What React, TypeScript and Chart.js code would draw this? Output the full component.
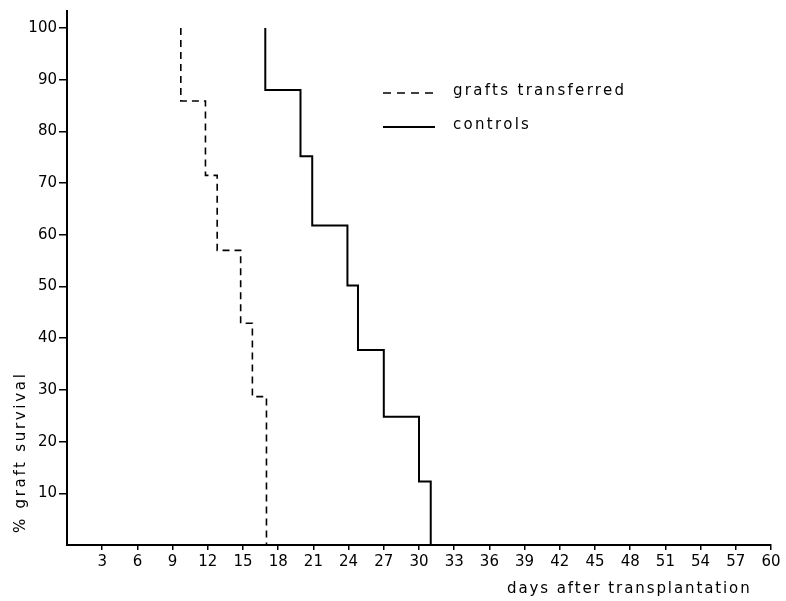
import React, { useEffect, useRef } from "react";
import { Chart, registerables } from "chart.js";

Chart.register(...registerables);

// Days at which each survival step happens
const transferredDays = [9.7, 11.8, 12.8, 14.8, 15.8, 17.0];
// % graft survival before first step, then after each step
const transferredSurvival = [100, 85.9, 71.5, 57.0, 42.9, 28.7, 0];

const controlDays = [16.9, 19.9, 20.9, 23.9, 24.8, 27.0, 30.0, 31.0];
const controlSurvival = [100, 88.0, 75.2, 61.8, 50.2, 37.7, 24.8, 12.3, 0];

const xTickValues = [3, 6, 9, 12, 15, 18, 21, 24, 27, 30, 33, 36, 39, 42, 45, 48, 51, 54, 57, 60];
const yTickValues = [10, 20, 30, 40, 50, 60, 70, 80, 90, 100];

const seriesLabels = ["grafts transferred", "controls"];
const xTitle = "days after transplantation";
const yTitle = "% graft survival";

function stepPoints(days: number[], surv: number[]) {
  const pts: { x: number; y: number }[] = [{ x: days[0], y: surv[0] }];
  for (let i = 0; i < days.length; i++) {
    pts.push({ x: days[i], y: surv[i + 1] });
    if (i + 1 < days.length) pts.push({ x: days[i + 1], y: surv[i + 1] });
  }
  return pts;
}

const FONT = '"DejaVu Sans", sans-serif';

const decorPlugin = {
  id: "decor",
  afterDraw(chart: any) {
    const { ctx, chartArea } = chart;
    ctx.save();
    ctx.fillStyle = "#000";
    ctx.strokeStyle = "#000";
    ctx.font = `15px ${FONT}`;
    (ctx as any).letterSpacing = "2.3px";
    ctx.textAlign = "left";
    ctx.textBaseline = "alphabetic";

    // legend
    const lx = chartArea.left + 316;
    const ds = chart.data.datasets;
    const rows = [
      { lineY: 93, textY: 95 },
      { lineY: 127, textY: 129 },
    ];
    ds.forEach((d: any, i: number) => {
      const r = rows[i];
      ctx.save();
      ctx.lineWidth = d.borderWidth;
      ctx.setLineDash(i === 0 ? [8, 6] : []);
      ctx.beginPath();
      ctx.moveTo(lx, r.lineY);
      ctx.lineTo(lx + (i === 0 ? 55 : 52), r.lineY);
      ctx.stroke();
      ctx.restore();
      ctx.fillText(d.label, lx + 70, r.textY);
    });

    // x title
    (ctx as any).letterSpacing = "1.9px";
    ctx.fillText(xTitle, chartArea.right - 264, 593);

    // y title
    (ctx as any).letterSpacing = "2.7px";
    ctx.translate(25, chartArea.bottom - 12);
    ctx.rotate(-Math.PI / 2);
    ctx.fillText(yTitle, 0, 0);
    ctx.restore();
  },
};

export default function App() {
  const ref = useRef<HTMLCanvasElement>(null);
  useEffect(() => {
    document.body.style.margin = "0";
    const chart = new Chart(ref.current!, {
      type: "line",
      data: {
        datasets: [
          {
            label: seriesLabels[0],
            data: stepPoints(transferredDays, transferredSurvival),
            borderColor: "#000",
            borderWidth: 1.6,
            borderDash: [7, 5],
            pointRadius: 0,
            tension: 0,
            fill: false,
          },
          {
            label: seriesLabels[1],
            data: stepPoints(controlDays, controlSurvival),
            borderColor: "#000",
            borderWidth: 2,
            pointRadius: 0,
            tension: 0,
            fill: false,
          },
        ],
      },
      options: {
        animation: false,
        responsive: false,
        devicePixelRatio: 1,
        layout: { padding: { top: 7, right: 15, left: 0, bottom: 0 } },
        plugins: { legend: { display: false }, tooltip: { enabled: false } },
        scales: {
          x: {
            type: "linear",
            min: 0,
            max: 60,
            afterBuildTicks: (s: any) => {
              s.ticks = xTickValues.map((v) => ({ value: v }));
            },
            afterFit: (s: any) => {
              s.height = 56;
            },
            ticks: {
              color: "#000",
              font: { family: FONT, size: 15 },
              padding: 3,
              maxRotation: 0,
              autoSkip: false,
              callback: (v: any) => String(v),
            },
            grid: {
              display: true,
              drawOnChartArea: false,
              drawTicks: true,
              tickLength: 5,
              color: "#000",
              lineWidth: 1.5,
            },
            border: { display: true, color: "#000", width: 2 },
          },
          y: {
            type: "linear",
            min: 0,
            max: 103.3,
            afterBuildTicks: (s: any) => {
              s.ticks = yTickValues.map((v) => ({ value: v }));
            },
            afterFit: (s: any) => {
              s.width = 67;
            },
            ticks: {
              color: "#000",
              font: { family: FONT, size: 15 },
              padding: 2,
              autoSkip: false,
              callback: (v: any) => String(v),
            },
            grid: {
              display: true,
              drawOnChartArea: false,
              drawTicks: true,
              tickLength: 8,
              color: "#000",
              lineWidth: 1.5,
            },
            border: { display: true, color: "#000", width: 2 },
          },
        },
      },
      plugins: [decorPlugin],
    } as any);
    return () => chart.destroy();
  }, []);
  return (
    <div style={{ position: "absolute", left: 0, top: 0, width: 786, height: 601, background: "#fff" }}>
      <canvas ref={ref} width={786} height={601} />
    </div>
  );
}
